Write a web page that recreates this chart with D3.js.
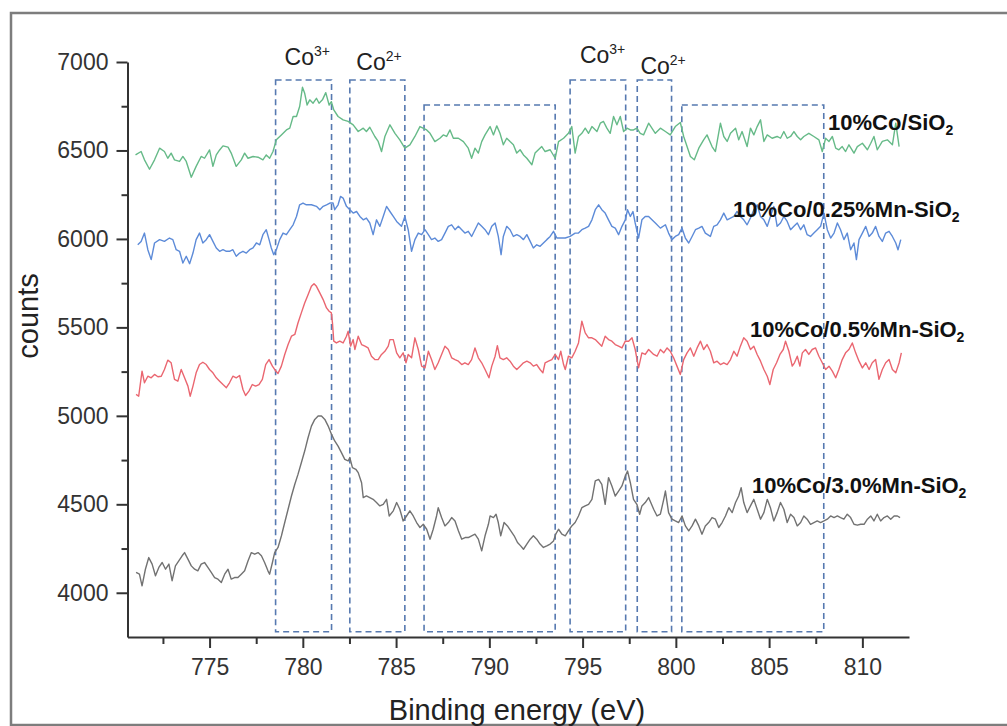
<!DOCTYPE html>
<html lang="en">
<head>
<meta charset="utf-8">
<script src="https://d3js.org/d3.v7.min.js"></script>
<style>
  body { margin: 0; background: #fff; }
  svg text { font-family: "Liberation Sans", Arial, sans-serif; }
</style>
</head>
<body>
<script>
var width = 1007, height = 726;

// axis ticks
var xMajorTicks = [775, 780, 785, 790, 795, 800, 805, 810];
var xMinorTicks = [772.5, 777.5, 782.5, 787.5, 792.5, 797.5, 802.5, 807.5];
var yMajorTicks = [4000, 4500, 5000, 5500, 6000, 6500, 7000];
var yMinorTicks = [4250, 4750, 5250, 5750, 6250, 6750];

// dashed regions (eV from, eV to, top in counts)
var regionFrom = [778.54, 782.52, 786.5, 794.33, 797.93, 800.32];
var regionTo   = [781.54, 785.47, 793.53, 797.31, 799.77, 807.93];
var regionTop  = [6898, 6898, 6757, 6898, 6898, 6757];
var regionBottom = 3780;

// peak labels above regions
var peakIon = ["3+", "2+", "3+", "2+"];
var peakRegion = [0, 1, 3, 4];

// series names
var seriesNames = ["10%Co/SiO", "10%Co/0.25%Mn-SiO", "10%Co/0.5%Mn-SiO", "10%Co/3.0%Mn-SiO"];

// spectra [binding energy (eV), counts]
var coSiO2 = [[771.03,6475],[771.33,6494],[771.51,6447],[771.78,6394],[772.05,6447],[772.32,6513],[772.58,6494],[772.76,6456],[772.94,6485],[773.12,6447],[773.39,6438],[773.57,6466],[773.75,6438],[774.02,6349],[774.28,6410],[774.55,6466],[774.73,6456],[775.0,6503],[775.18,6410],[775.36,6475],[775.54,6503],[775.72,6526],[775.99,6519],[776.16,6485],[776.43,6410],[776.7,6447],[776.88,6485],[777.06,6456],[777.33,6466],[777.6,6462],[777.86,6447],[778.04,6475],[778.22,6456],[778.4,6494],[778.58,6560],[778.85,6588],[779.12,6616],[779.3,6626],[779.48,6692],[779.66,6692],[779.83,6748],[779.98,6857],[780.1,6823],[780.23,6757],[780.37,6786],[780.55,6767],[780.73,6795],[780.87,6767],[781.05,6786],[781.23,6827],[781.41,6757],[781.53,6776],[781.66,6729],[781.89,6692],[782.16,6673],[782.43,6664],[782.7,6645],[782.97,6607],[783.24,6626],[783.41,6607],[783.59,6631],[783.86,6579],[784.04,6551],[784.22,6494],[784.4,6579],[784.67,6645],
  [784.94,6597],[785.2,6560],[785.47,6513],[785.74,6532],[786.01,6579],[786.28,6635],[786.64,6616],[786.82,6597],[787.08,6550],[787.35,6569],[787.53,6588],[787.71,6579],[787.89,6616],[788.07,6569],[788.34,6569],[788.61,6550],[788.87,6513],[789.05,6456],[789.23,6513],[789.41,6485],[789.59,6550],[789.77,6588],[790.04,6635],[790.22,6588],[790.4,6639],[790.57,6597],[790.75,6532],[790.93,6569],[791.11,6550],[791.29,6532],[791.47,6485],[791.65,6504],[791.83,6475],[792.01,6456],[792.28,6419],[792.45,6485],[792.63,6504],[792.81,6522],[792.99,6494],[793.26,6504],[793.53,6456],[793.71,6550],[793.98,6569],[794.24,6597],[794.42,6635],[794.6,6485],[794.78,6579],[794.96,6597],[795.14,6626],[795.32,6597],[795.5,6635],[795.77,6607],[795.95,6654],[796.12,6664],[796.3,6626],[796.48,6597],[796.66,6692],[796.84,6645],[797.02,6692],[797.2,6607],[797.38,6626],[797.56,6616],[797.73,6616],[797.91,6626],[798.09,6597],[798.27,6588],[798.54,6654],
  [798.9,6597],[799.17,6626],[799.44,6607],[799.7,6588],[799.97,6635],[800.24,6658],[800.42,6579],[800.6,6522],[800.78,6466],[800.99,6447],[801.23,6513],[801.49,6560],[801.67,6588],[801.94,6522],[802.12,6494],[802.39,6654],[802.57,6579],[802.75,6551],[802.93,6597],[803.2,6626],[803.37,6560],[803.55,6607],[803.82,6522],[804.0,6626],[804.18,6588],[804.36,6635],[804.54,6673],[804.72,6551],[804.9,6588],[805.16,6569],[805.43,6579],[805.61,6569],[805.79,6607],[805.97,6569],[806.15,6579],[806.33,6607],[806.51,6579],[806.69,6560],[806.86,6579],[807.13,6597],[807.4,6579],[807.67,6560],[807.85,6494],[808.03,6569],[808.21,6551],[808.39,6579],[808.57,6513],[808.74,6504],[808.92,6522],[809.1,6494],[809.28,6532],[809.55,6485],[809.73,6522],[810.0,6541],[810.27,6504],[810.45,6541],[810.62,6579],[810.8,6504],[811.07,6551],[811.34,6560],[811.61,6532],[811.79,6654],[811.97,6522]];

var co025Mn = [[771.15,5967],[771.33,5986],[771.51,6033],[771.69,5939],[771.87,5883],[772.05,5977],[772.32,5996],[772.58,5986],[772.85,6005],[773.03,5996],[773.21,5939],[773.39,5930],[773.57,5864],[773.75,5902],[773.93,5860],[774.11,5920],[774.28,5996],[774.46,6033],[774.64,5977],[774.82,5996],[775.0,6024],[775.18,5986],[775.36,5949],[775.54,5930],[775.72,5939],[775.9,5930],[776.07,5930],[776.25,5939],[776.43,5902],[776.61,5920],[776.79,5930],[776.97,5920],[777.15,5939],[777.33,5949],[777.51,5977],[777.69,5967],[777.86,6024],[778.04,6052],[778.19,5996],[778.31,5949],[778.44,5911],[778.58,5939],[778.76,5996],[778.94,6033],[779.12,6024],[779.3,6052],[779.48,6080],[779.66,6127],[779.83,6193],[780.01,6203],[780.19,6193],[780.46,6193],[780.73,6184],[780.91,6165],[781.09,6184],[781.27,6193],[781.45,6203],[781.62,6203],[781.71,6165],[781.89,6193],[782.02,6240],[782.16,6231],[782.34,6184],[782.52,6165],[782.7,6146],[782.88,6155],[783.06,6127],[783.24,6108],[783.41,6118],[783.59,6090],[783.77,6024],[783.95,6108],[784.13,6071],[784.31,6127],[784.49,6184],[784.67,6155],
  [784.85,6127],[785.03,6099],[785.29,6071],[785.47,6127],[785.65,6052],[785.83,5930],[786.01,5996],[786.19,6033],[786.37,6024],[786.55,6052],[786.73,6024],[786.9,5996],[787.08,6005],[787.26,5986],[787.44,5996],[787.62,6033],[787.8,6071],[787.98,6080],[788.16,6052],[788.34,6071],[788.52,6052],[788.69,6033],[788.87,6043],[789.05,6014],[789.23,6052],[789.41,6090],[789.59,6071],[789.77,6052],[789.95,6024],[790.13,6071],[790.31,6090],[790.48,6014],[790.63,5911],[790.75,6014],[790.93,6071],[791.11,6052],[791.29,6014],[791.47,6024],[791.65,6014],[791.83,5996],[792.01,6024],[792.19,5986],[792.36,5949],[792.54,5967],[792.72,5958],[792.9,5977],[793.08,5996],[793.26,6014],[793.44,6043],[793.62,6005],[793.8,6005],[794.07,6005],[794.33,6014],[794.6,6033],[794.78,6033],[794.96,6052],[795.14,6061],[795.32,6071],[795.5,6108],[795.68,6165],[795.86,6193],[796.03,6165],[796.21,6146],[796.39,6108],[796.57,6071],[796.75,6061],[796.93,6024],[797.11,6071],[797.29,6108],[797.41,6165],[797.56,6127],[797.7,6155],[797.82,6090],[798.0,6005],[798.18,6108],[798.36,6127],[798.54,6127],
  [798.9,6090],[799.17,6061],[799.44,6080],[799.61,6033],[799.79,5996],[799.97,6014],[800.15,6024],[800.33,6061],[800.51,6005],[800.69,5977],[800.87,6014],[801.05,6052],[801.23,6061],[801.4,6071],[801.58,6033],[801.85,6014],[802.03,6071],[802.21,6080],[802.39,6108],[802.57,6146],[802.75,6108],[802.93,6118],[803.11,6127],[803.28,6155],[803.46,6127],[803.64,6108],[803.82,6080],[804.0,6118],[804.18,6165],[804.36,6193],[804.54,6127],[804.72,6108],[804.9,6071],[805.07,6127],[805.25,6184],[805.43,6071],[805.61,6090],[805.79,6127],[805.97,6099],[806.15,6052],[806.33,6071],[806.51,6090],[806.69,6052],[806.86,6080],[807.04,6024],[807.22,6014],[807.4,6033],[807.58,6052],[807.76,6071],[807.94,6146],[808.12,6052],[808.3,6005],[808.48,6033],[808.66,6090],[808.83,6052],[809.01,5996],[809.19,6033],[809.37,5939],[809.55,5977],[809.68,5883],[809.82,5996],[810.0,6033],[810.18,6071],[810.36,6014],[810.53,6033],[810.71,6071],[810.89,6014],[811.07,5986],[811.25,6033],[811.43,6043],[811.61,6014],[811.79,5977],[811.91,5939],[812.06,5996]];

var co05Mn = [[771.06,5121],[771.2,5111],[771.38,5253],[771.51,5187],[771.69,5224],[771.87,5215],[772.05,5234],[772.23,5221],[772.41,5224],[772.58,5262],[772.76,5315],[772.94,5300],[773.12,5206],[773.3,5196],[773.48,5262],[773.66,5215],[773.84,5168],[773.96,5111],[774.11,5168],[774.28,5243],[774.46,5290],[774.64,5303],[774.82,5290],[775.0,5262],[775.18,5243],[775.36,5215],[775.54,5196],[775.72,5177],[775.9,5159],[776.07,5187],[776.25,5224],[776.43,5215],[776.61,5228],[776.79,5149],[776.93,5115],[777.11,5140],[777.29,5177],[777.47,5168],[777.65,5177],[777.83,5206],[778.01,5290],[778.19,5318],[778.37,5281],[778.55,5253],[778.67,5239],[778.85,5281],[779.03,5347],[779.21,5403],[779.39,5450],[779.57,5460],[779.74,5525],[779.92,5582],[780.1,5638],[780.28,5685],[780.46,5732],[780.6,5747],[780.73,5732],[780.91,5695],[781.09,5657],[781.27,5610],[781.41,5591],[781.53,5582],[781.59,5525],[781.66,5422],[781.8,5412],[781.98,5422],[782.16,5412],[782.34,5450],[782.43,5478],[782.56,5394],[782.7,5431],[782.79,5375],[782.97,5450],[783.15,5403],[783.33,5394],[783.5,5384],[783.68,5337],[783.86,5318],[784.04,5318],[784.22,5347],[784.4,5365],[784.58,5394],[784.67,5431],
  [784.85,5431],[785.03,5356],[785.2,5328],[785.38,5356],[785.53,5300],[785.65,5347],[785.83,5328],[786.01,5441],[786.19,5375],[786.37,5281],[786.55,5271],[786.73,5365],[786.9,5318],[787.08,5262],[787.26,5300],[787.44,5347],[787.62,5394],[787.8,5375],[787.98,5328],[788.16,5318],[788.34,5309],[788.52,5290],[788.69,5300],[788.87,5290],[789.05,5318],[789.23,5384],[789.41,5328],[789.59,5300],[789.77,5262],[789.98,5215],[790.13,5281],[790.31,5337],[790.43,5397],[790.57,5328],[790.75,5318],[790.93,5328],[791.11,5309],[791.29,5281],[791.47,5262],[791.65,5281],[791.83,5300],[792.01,5309],[792.19,5300],[792.36,5281],[792.54,5290],[792.72,5262],[792.87,5243],[792.99,5300],[793.17,5309],[793.35,5318],[793.53,5347],[793.71,5318],[793.83,5365],[793.98,5290],[794.07,5262],[794.24,5337],[794.42,5328],[794.6,5365],[794.78,5412],[794.96,5535],[795.14,5469],[795.32,5441],[795.5,5441],[795.68,5431],[795.86,5412],[796.03,5394],[796.21,5450],[796.39,5431],[796.57,5422],[796.75,5403],[796.93,5394],[797.11,5384],[797.29,5422],[797.47,5422],[797.65,5441],[797.82,5375],[798.0,5271],[798.18,5356],[798.36,5347],[798.54,5375],
  [798.81,5347],[798.99,5337],[799.17,5375],[799.35,5356],[799.53,5384],[799.7,5365],[799.88,5328],[800.06,5281],[800.24,5234],[800.42,5318],[800.6,5356],[800.78,5384],[800.96,5337],[801.14,5384],[801.32,5422],[801.49,5375],[801.67,5403],[801.85,5365],[802.03,5300],[802.21,5309],[802.39,5290],[802.57,5300],[802.75,5290],[802.93,5318],[803.11,5365],[803.28,5337],[803.46,5394],[803.64,5441],[803.82,5422],[804.0,5375],[804.18,5394],[804.36,5347],[804.54,5309],[804.72,5262],[804.9,5224],[805.04,5177],[805.22,5262],[805.4,5300],[805.58,5347],[805.76,5375],[805.88,5422],[806.06,5365],[806.24,5281],[806.36,5300],[806.51,5337],[806.65,5281],[806.78,5356],[806.95,5375],[807.13,5347],[807.31,5375],[807.49,5384],[807.67,5337],[807.85,5300],[808.03,5262],[808.21,5281],[808.39,5253],[808.57,5215],[808.74,5262],[808.92,5318],[809.1,5356],[809.28,5375],[809.46,5412],[809.64,5356],[809.82,5309],[810.0,5271],[810.18,5300],[810.36,5262],[810.53,5300],[810.71,5318],[810.89,5206],[811.07,5262],[811.25,5300],[811.43,5318],[811.61,5262],[811.79,5243],[811.97,5300],[812.09,5356]];

var co30Mn = [[771.06,4115],[771.24,4105],[771.38,4039],[771.56,4133],[771.74,4199],[771.92,4162],[772.1,4096],[772.28,4143],[772.46,4171],[772.64,4133],[772.82,4162],[772.99,4068],[773.17,4152],[773.35,4180],[773.53,4209],[773.66,4227],[773.84,4190],[774.02,4152],[774.2,4133],[774.37,4124],[774.55,4162],[774.73,4171],[774.91,4143],[775.09,4115],[775.27,4086],[775.45,4077],[775.63,4058],[775.81,4105],[775.99,4133],[776.16,4077],[776.34,4086],[776.52,4086],[776.7,4105],[776.88,4124],[777.06,4180],[777.24,4227],[777.42,4218],[777.6,4227],[777.78,4209],[777.95,4171],[778.13,4124],[778.22,4105],[778.37,4171],[778.49,4227],[778.67,4256],[778.85,4321],[779.03,4397],[779.21,4472],[779.39,4547],[779.57,4613],[779.74,4669],[779.92,4735],[780.1,4801],[780.28,4876],[780.46,4942],[780.64,4980],[780.82,4999],[781.0,4999],[781.18,4980],[781.36,4942],[781.54,4895],[781.71,4858],[781.89,4829],[782.07,4792],[782.25,4754],[782.43,4745],[782.52,4764],[782.66,4707],[782.84,4698],[782.97,4679],[783.15,4622],[783.24,4538],[783.41,4547],[783.59,4538],[783.77,4528],[783.95,4510],[784.13,4491],[784.31,4500],[784.49,4528],[784.63,4434],
  [784.85,4463],[785.03,4510],[785.2,4472],[785.38,4406],[785.56,4434],[785.74,4463],[785.92,4434],[786.1,4397],[786.28,4369],[786.46,4387],[786.64,4359],[786.82,4303],[786.99,4359],[787.17,4434],[787.26,4481],[787.44,4425],[787.62,4378],[787.8,4397],[787.98,4425],[788.16,4406],[788.34,4350],[788.52,4303],[788.7,4312],[788.87,4312],[789.05,4322],[789.23,4331],[789.41,4303],[789.59,4237],[789.77,4322],[789.95,4387],[790.04,4434],[790.22,4425],[790.36,4444],[790.48,4397],[790.61,4322],[790.79,4397],[790.97,4378],[791.15,4350],[791.33,4322],[791.51,4284],[791.68,4265],[791.83,4246],[792.01,4275],[792.19,4303],[792.36,4322],[792.54,4303],[792.72,4275],[792.9,4256],[793.08,4265],[793.26,4275],[793.44,4293],[793.56,4331],[793.71,4359],[793.89,4331],[794.07,4322],[794.24,4350],[794.42,4378],[794.6,4397],[794.78,4434],[794.96,4481],[795.14,4491],[795.32,4500],[795.5,4528],[795.68,4632],[795.86,4641],[796.03,4613],[796.21,4500],[796.39,4651],[796.57,4604],[796.75,4547],[796.93,4575],[797.11,4604],[797.29,4660],[797.41,4688],[797.56,4622],[797.73,4528],[797.91,4500],[798.06,4444],[798.18,4491],[798.36,4510],[798.54,4538],
  [798.81,4472],[798.99,4434],[799.17,4444],[799.35,4528],[799.44,4575],[799.61,4453],[799.79,4416],[799.97,4406],[800.15,4397],[800.33,4434],[800.51,4378],[800.69,4350],[800.87,4378],[801.05,4416],[801.23,4378],[801.4,4331],[801.58,4378],[801.76,4397],[801.94,4425],[802.12,4416],[802.3,4369],[802.48,4397],[802.66,4434],[802.84,4481],[803.02,4453],[803.2,4510],[803.37,4547],[803.5,4594],[803.64,4510],[803.82,4453],[804.0,4491],[804.18,4528],[804.36,4472],[804.54,4416],[804.72,4453],[804.9,4528],[805.07,4481],[805.25,4406],[805.43,4453],[805.61,4510],[805.79,4472],[805.97,4397],[806.15,4444],[806.33,4425],[806.51,4378],[806.69,4397],[806.86,4434],[807.04,4416],[807.22,4387],[807.4,4397],[807.58,4406],[807.76,4397],[807.94,4406],[808.12,4416],[808.3,4434],[808.48,4425],[808.66,4434],[808.83,4425],[809.01,4416],[809.19,4444],[809.37,4425],[809.55,4387],[809.73,4382],[809.91,4387],[810.09,4387],[810.27,4416],[810.45,4434],[810.62,4406],[810.8,4444],[810.98,4406],[811.16,4425],[811.34,4434],[811.52,4416],[811.7,4434],[811.88,4434],[812.02,4425]];

var seriesData = [coSiO2, co025Mn, co05Mn, co30Mn];
var seriesColors = ["#66ba88", "#5d8bd8", "#ea6670", "#727272"];

var svg = d3.select('body').append('svg').attr('width', width).attr('height', height);

// outer frame
svg.append('rect').attr('x', 11).attr('y', 13).attr('width', 1010).attr('height', 712)
    .attr('fill', '#fff').attr('stroke', '#7d7d7d').attr('stroke-width', 2.5);

var x = d3.scaleLinear().domain([770.6, 812.5]).range([127.5, 909]);
var y = d3.scaleLinear().domain([3750, 7000]).range([637, 62]);

// dashed boxes
svg.append('g').selectAll('rect')
    .data(regionFrom)
    .join('rect')
    .attr('x', function(d) { return x(d); })
    .attr('y', function(d, i) { return y(regionTop[i]); })
    .attr('width', function(d, i) { return x(regionTo[i]) - x(d); })
    .attr('height', function(d, i) { return y(regionBottom) - y(regionTop[i]); })
    .attr('fill', 'none')
    .attr('stroke', '#5679b0')
    .attr('stroke-width', 1.6)
    .attr('stroke-dasharray', '6,4');

// spectra
var line = d3.line().x(function(d) { return x(d[0]); }).y(function(d) { return y(d[1]); });
svg.append('g').selectAll('path')
    .data(seriesData)
    .join('path')
    .attr('d', line)
    .attr('fill', 'none')
    .attr('stroke', function(d, i) { return seriesColors[i]; })
    .attr('stroke-width', 1.4)
    .attr('stroke-linejoin', 'round');

// axes
svg.append('g').attr('transform', 'translate(0,637)')
    .call(d3.axisBottom(x).tickValues(xMajorTicks).tickSize(11).tickSizeOuter(0).tickPadding(11));
svg.append('g').attr('transform', 'translate(0,637)')
    .call(d3.axisBottom(x).tickValues(xMinorTicks).tickSize(7).tickSizeOuter(0).tickFormat(''))
    .select('.domain').remove();
svg.append('g').attr('transform', 'translate(127.5,0)')
    .call(d3.axisLeft(y).tickValues(yMajorTicks).tickSize(11).tickSizeOuter(0).tickPadding(8).tickFormat(d3.format('d')));
svg.append('g').attr('transform', 'translate(127.5,0)')
    .call(d3.axisLeft(y).tickValues(yMinorTicks).tickSize(6).tickSizeOuter(0).tickFormat(''))
    .select('.domain').remove();

svg.selectAll('.domain').attr('stroke', '#333').attr('stroke-width', 2);
svg.selectAll('.tick line').attr('stroke', '#333').attr('stroke-width', 2);
svg.selectAll('.tick text').attr('font-size', 23).attr('fill', '#333')
    .attr('font-family', '"Liberation Sans", Arial, sans-serif');

// axis titles
svg.append('text').attr('transform', 'translate(38,316) rotate(-90)')
    .attr('text-anchor', 'middle').attr('font-size', 29).attr('fill', '#222').text('counts');
svg.append('text').attr('x', 517).attr('y', 720)
    .attr('text-anchor', 'middle').attr('font-size', 29).attr('fill', '#222').text('Binding energy (eV)');

// peak labels
var peakDx = [-19, -21, -18, -14];
var peakY = [65, 70, 63, 74];
peakIon.forEach(function(ion, i) {
    var r = peakRegion[i];
    var cx = (x(regionFrom[r]) + x(regionTo[r])) / 2;
    var t = svg.append('text').attr('x', cx + peakDx[i]).attr('y', peakY[i])
        .attr('font-size', 23).attr('fill', '#222').text('Co');
    t.append('tspan').attr('font-size', 14).attr('dy', -9).text(ion);
});

// series labels
var labelX = [828, 733, 750, 752];
var labelY = [130, 217, 337, 493];
seriesNames.forEach(function(name, i) {
    var t = svg.append('text').attr('x', labelX[i]).attr('y', labelY[i])
        .attr('font-size', 22).attr('font-weight', 'bold').attr('fill', '#111').text(name);
    t.append('tspan').attr('font-size', 14).attr('dy', 5).text('2');
});
</script>
</body>
</html>
